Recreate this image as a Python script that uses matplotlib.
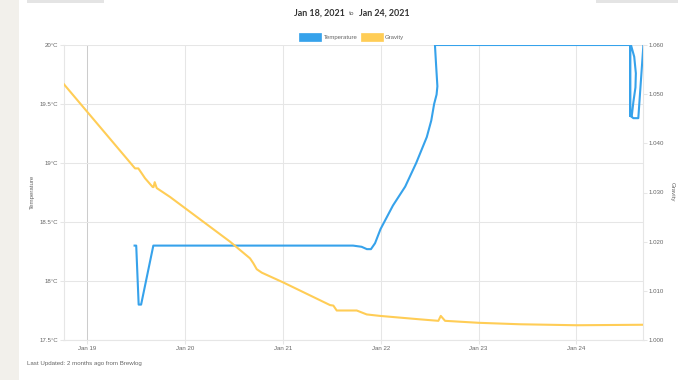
import matplotlib
matplotlib.use("Agg")
import matplotlib.pyplot as plt
import matplotlib.dates as mdates
from matplotlib.patches import Rectangle
from datetime import datetime, timedelta

# ---------------- data ----------------
start = datetime(2021, 1, 18)

# hours since Jan 18 2021 00:00
temp_hours = [35.6, 36.0, 36.6, 37.2, 40.2, 89.2, 91.3, 92.6, 93.6, 94.6, 95.95, 99.0,
              102.0, 104.7, 107.3, 108.4, 109.1, 109.7, 109.9, 109.6, 109.3, 157.4, 158.2,
              158.6, 158.5, 158.0, 157.6, 157.2, 157.2, 157.2, 158.0, 159.2, 160.45]
temp_values = [18.3, 18.3, 17.8, 17.8, 18.3, 18.3, 18.29, 18.27, 18.27, 18.32, 18.44, 18.64,
               18.8, 19.0, 19.22, 19.36, 19.5, 19.58, 19.65, 19.82, 20.0, 20.0, 19.9,
               19.76, 19.64, 19.52, 19.4, 19.4, 20.0, 19.4, 19.38, 19.38, 20.0]

grav_hours = [18.28, 35.71, 36.52, 37.35, 38.16, 40.05, 40.25, 40.54, 41.03, 44.29,
              59.02, 63.93, 64.74, 65.57, 66.80, 72.10, 83.56, 84.37, 85.20, 90.11,
              92.56, 95.83, 105.65, 110.14, 110.73, 111.78, 119.95, 130.18, 144.10, 160.44]
grav_values = [1.0520, 1.0349, 1.0349, 1.0339, 1.0329, 1.0311, 1.0311, 1.0321, 1.0309, 1.0291,
               1.0200, 1.0166, 1.0156, 1.0144, 1.0137, 1.0117, 1.0071, 1.0070, 1.0060, 1.0060,
               1.0052, 1.0049, 1.0042, 1.0039, 1.0049, 1.0039, 1.0035, 1.0032, 1.0030, 1.0031]

x_range_hours = [18.28, 160.45]
temp_ticks = [17.5, 18.0, 18.5, 19.0, 19.5, 20.0]
temp_tick_labels = ["17.5°C", "18°C", "18.5°C", "19°C", "19.5°C", "20°C"]
grav_ticks = [1.000, 1.010, 1.020, 1.030, 1.040, 1.050, 1.060]
grav_tick_labels = ["1.000", "1.010", "1.020", "1.030", "1.040", "1.050", "1.060"]
series_names = ["Temperature", "Gravity"]
title_from, title_to = "Jan 18, 2021", "Jan 24, 2021"
footer = "Last Updated: 2 months ago from Brewlog"

# ---------------- style ----------------
W, H = 688, 380
BLUE = "#36A2EB"
YELLOW = "#FFCD56"
GRID = "#e6e6e6"
TXT = "#666666"
FONT = ["Liberation Sans", "DejaVu Sans"]
plt.rcParams["font.family"] = FONT


def fx(px):
    return px / W


def fy(py):
    return 1 - py / H


def to_dt(hours):
    return [start + timedelta(hours=h) for h in hours]


fig = plt.figure(figsize=(W / 100, H / 100), dpi=100)
fig.patch.set_facecolor("white")

# page background pieces
fig.add_artist(Rectangle((0, 0), fx(18.5), 1, transform=fig.transFigure,
                         facecolor="#f2f0eb", edgecolor="none", zorder=-5))
fig.add_artist(Rectangle((fx(27), fy(2.5)), fx(77), 2.5 / H, transform=fig.transFigure,
                         facecolor="#e4e4e4", edgecolor="none"))
fig.add_artist(Rectangle((fx(596), fy(2.5)), fx(82), 2.5 / H, transform=fig.transFigure,
                         facecolor="#e4e4e4", edgecolor="none"))

left, right, top, bottom = 64, 643.4, 45, 340
ax = fig.add_axes([fx(left), fy(bottom), fx(right - left), (bottom - top) / H])
ax2 = ax.twinx()

ax.plot(to_dt(temp_hours), temp_values, color=BLUE, lw=1.5, solid_joinstyle="round", zorder=3)
ax2.plot(to_dt(grav_hours), grav_values, color=YELLOW, lw=1.5, solid_joinstyle="round", zorder=3)

ax.set_xlim(to_dt(x_range_hours))
ax.set_ylim(temp_ticks[0], temp_ticks[-1])
ax2.set_ylim(grav_ticks[0], grav_ticks[-1])

ax.set_yticks(temp_ticks)
ax.set_yticklabels(temp_tick_labels)
ax2.set_yticks(grav_ticks)
ax2.set_yticklabels(grav_tick_labels)

ax.xaxis.set_major_locator(mdates.DayLocator())
ax.xaxis.set_major_formatter(mdates.DateFormatter("%b %d"))

ax.grid(True, color=GRID, lw=0.75)
xg = ax.get_xgridlines()
if xg:
    xg[0].set_color("#cccccc")

for a in (ax, ax2):
    for s in a.spines.values():
        s.set_color(GRID)
        s.set_linewidth(0.75)
    a.spines["top"].set_visible(False)

ax.tick_params(axis="both", length=3, width=0.75, color=GRID, labelsize=4.4,
               labelcolor=TXT, pad=1.0)
ax2.tick_params(axis="y", length=3, width=0.75, color=GRID, labelsize=4.4,
                labelcolor=TXT, pad=1.0)
ax.tick_params(axis="x", pad=1.6)

fig.text(fx(32), fy(192), "Temperature", rotation=90, ha="center", va="center",
         fontsize=4.4, color=TXT)
fig.text(fx(672), fy(192), "Gravity", rotation=270, ha="center", va="center",
         fontsize=4.4, color=TXT)

# title
fig.text(fx(345), fy(13.5), title_from, ha="right", va="center", fontsize=6.4,
         fontweight="bold", color="#333333", family=["Lato", "DejaVu Sans"])
fig.text(fx(352), fy(13.8), "to", ha="center", va="center", fontsize=4.3,
         color="#555555", family=["Lato", "DejaVu Sans"])
fig.text(fx(359), fy(13.5), title_to, ha="left", va="center", fontsize=6.4,
         fontweight="bold", color="#333333", family=["Lato", "DejaVu Sans"])

# legend
for (bx, tx), col, name in zip([(299.3, 323.5), (361, 384.5)], [BLUE, YELLOW], series_names):
    fig.add_artist(Rectangle((fx(bx), fy(41)), fx(21.7), 7.7 / H, transform=fig.transFigure,
                             facecolor=col, edgecolor=col, lw=0.5))
    fig.text(fx(tx), fy(37.3), name, ha="left", va="center", fontsize=4.3, color=TXT)

fig.text(fx(27), fy(364), footer, ha="left", va="center", fontsize=4.4, color=TXT)

fig.savefig("out.png", dpi=100, facecolor="white")
